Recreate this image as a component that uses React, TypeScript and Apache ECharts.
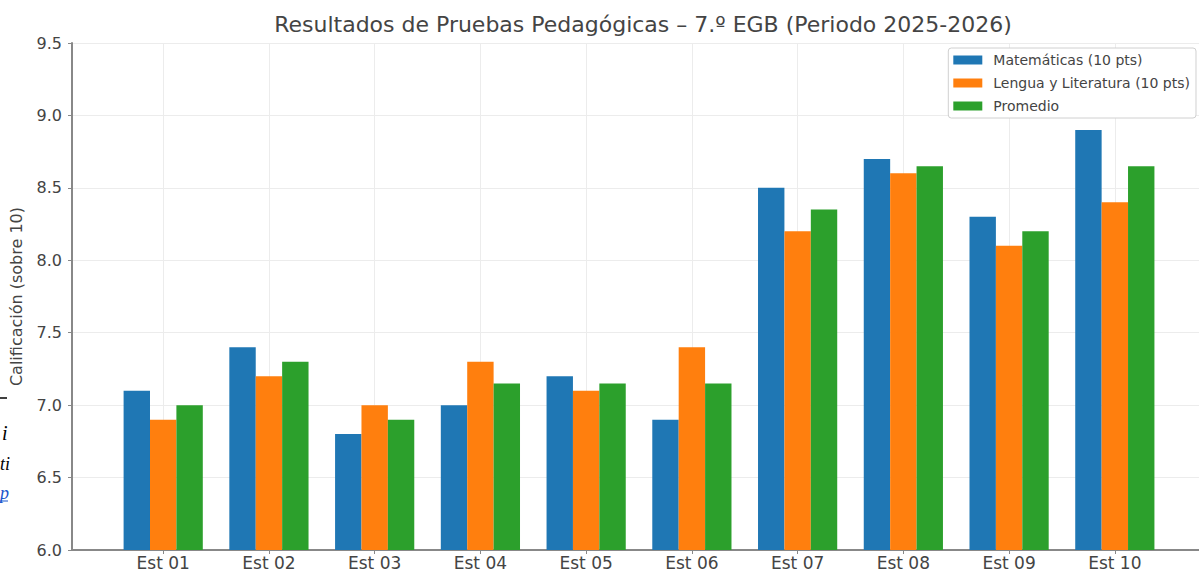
import React, { useEffect, useRef } from "react";
import * as echarts from "echarts";

const categories = ["Est 01", "Est 02", "Est 03", "Est 04", "Est 05", "Est 06", "Est 07", "Est 08", "Est 09", "Est 10"];
const matematicas = [7.1, 7.4, 6.8, 7.0, 7.2, 6.9, 8.5, 8.7, 8.3, 8.9];
const lengua = [6.9, 7.2, 7.0, 7.3, 7.1, 7.4, 8.2, 8.6, 8.1, 8.4];
const promedio = [7.0, 7.3, 6.9, 7.15, 7.15, 7.15, 8.35, 8.65, 8.2, 8.65];
const seriesNames = ["Matemáticas (10 pts)", "Lengua y Literatura (10 pts)", "Promedio"];
const colors = ["#1f77b4", "#ff7f0e", "#2ca02c"];
const titleText = "Resultados de Pruebas Pedagógicas – 7.º EGB (Periodo 2025-2026)";
const yAxisName = "Calificación (sobre 10)";

const FONT = "'DejaVu Sans', sans-serif";

export default function App() {
  const ref = useRef<HTMLDivElement>(null);
  useEffect(() => {
    const chart = echarts.init(ref.current!, null, { renderer: "svg" });
    const idx = categories.map((_, i) => i);
    const mk = (name: string, vals: number[], color: string) => ({
      name,
      type: "bar",
      data: vals.map((v, i) => [i, v]),
      barWidth: 26.4,
      barGap: "0%",
      itemStyle: { color },
    });
    chart.setOption({
      animation: false,
      textStyle: { fontFamily: FONT },
      title: {
        text: titleText,
        left: 638,
        top: 8,
        textAlign: "center",
        textStyle: { fontFamily: FONT, fontSize: 22, fontWeight: "normal", color: "#444" },
      },
      legend: {
        orient: "vertical",
        right: 3,
        top: 48,
        itemWidth: 29,
        itemHeight: 9,
        itemGap: 7,
        icon: "rect",
        backgroundColor: "#fff",
        borderColor: "#d0d0d0",
        borderWidth: 1,
        borderRadius: 3,
        padding: [4, 6, 4, 5],
        textStyle: { fontFamily: FONT, fontSize: 14, lineHeight: 16, color: "#444", padding: [0, 0, 0, 6] },
        data: seriesNames,
      },
      grid: { left: 71, right: 0, top: 43, bottom: 20, containLabel: false },
      xAxis: {
        type: "value",
        min: -0.8625,
        max: 9.796,
        axisLine: { show: true, onZero: false, lineStyle: { color: "#888", width: 2 } },
        axisTick: { show: true, customValues: idx, length: 4, lineStyle: { color: "#888" } },
        axisLabel: {
          customValues: idx,
          formatter: (v: number) => categories[Math.round(v)] ?? "",
          fontFamily: FONT,
          fontSize: 17,
          color: "#444",
          margin: 4,
        },
        splitLine: { show: true, lineStyle: { color: "#ececec", width: 1 } },
      },
      yAxis: {
        type: "value",
        min: 6,
        max: 9.5,
        interval: 0.5,
        name: yAxisName,
        nameLocation: "middle",
        nameGap: 48,
        nameTextStyle: { fontFamily: FONT, fontSize: 16, color: "#444" },
        axisLine: { show: true, onZero: false, lineStyle: { color: "#888", width: 2 } },
        axisTick: { show: true, length: 4, lineStyle: { color: "#888" } },
        axisLabel: {
          formatter: (v: number) => v.toFixed(1),
          fontFamily: FONT,
          fontSize: 16,
          color: "#444",
          margin: 10,
        },
        splitLine: { show: true, lineStyle: { color: "#ececec", width: 1 } },
      },
      graphic: [
        { type: "line", shape: { x1: 0, y1: 398, x2: 7, y2: 398 }, style: { stroke: "#000", lineWidth: 1.5 } },
        { type: "text", x: 2, y: 423, style: { text: "i", font: "italic 20px 'Liberation Serif', serif", fill: "#000" } },
        { type: "text", x: 0, y: 455, style: { text: "ti", font: "italic 18px 'Liberation Serif', serif", fill: "#000" } },
        { type: "text", x: 0, y: 484, style: { text: "p", font: "italic 18px 'Liberation Serif', serif", fill: "#1a55cc" } },
        { type: "line", shape: { x1: 0, y1: 501, x2: 8, y2: 501 }, style: { stroke: "#1a55cc", lineWidth: 1 } },
      ],
      series: [
        mk(seriesNames[0], matematicas, colors[0]),
        mk(seriesNames[1], lengua, colors[1]),
        mk(seriesNames[2], promedio, colors[2]),
      ],
    });
    return () => chart.dispose();
  }, []);
  return <div ref={ref} style={{ width: 1199, height: 571, position: "absolute", left: 0, top: 0 }} />;
}
